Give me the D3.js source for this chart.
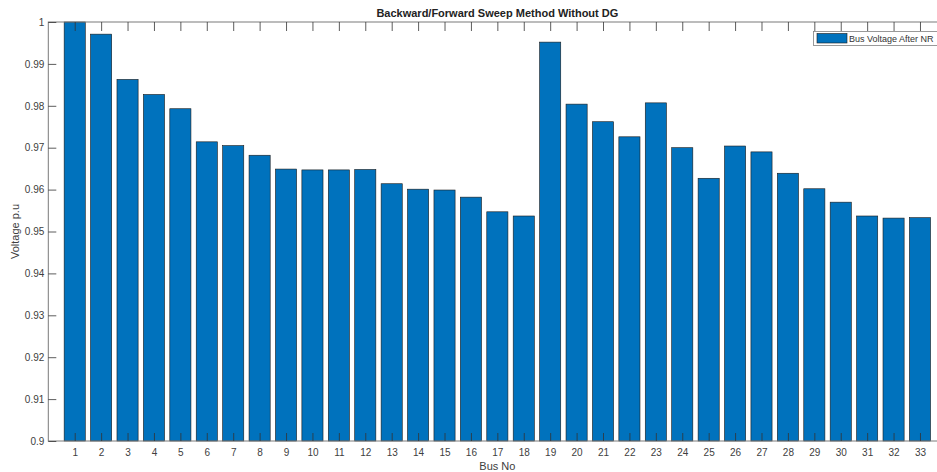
<!DOCTYPE html>
<html><head><meta charset="utf-8">
<script src="https://cdn.jsdelivr.net/npm/d3@7"></script>
<style>body{margin:0;background:#fff;} svg{display:block;font-family:"Liberation Sans",Arial,Helvetica,sans-serif;}</style>
</head><body>
<svg id="chart" width="937" height="472"></svg>
<script>
const buses = d3.range(1, 34);
const voltages = [1.0000, 0.9971, 0.9863, 0.9827, 0.9793, 0.9714, 0.9705, 0.9682, 0.9649, 0.9647,
  0.9647, 0.9648, 0.9614, 0.9601, 0.9599, 0.9582, 0.9547, 0.9537, 0.9952, 0.9804,
  0.9762, 0.9726, 0.9807, 0.9700, 0.9627, 0.9704, 0.9690, 0.9639, 0.9602, 0.9570,
  0.9537, 0.9532, 0.9533];
const yTicks = [0.9, 0.91, 0.92, 0.93, 0.94, 0.95, 0.96, 0.97, 0.98, 0.99, 1];
const title = "Backward/Forward Sweep Method Without DG";
const xLabel = "Bus No";
const yLabel = "Voltage p.u";
const legendLabel = "Bus Voltage After NR";

const svg = d3.select("#chart");
const L = 48.3, R = 946.4, T = 22, B = 441;
const x = d3.scaleLinear().domain([0, 34]).range([L, R]);
const y = d3.scaleLinear().domain([0.9, 1]).range([B, T]);
const step = x(1) - x(0);
const bw = step * 0.8;
const axisCol = "#7a7a7a", textCol = "#404040";

// bars
svg.append("g").selectAll("rect").data(voltages).enter().append("rect")
  .attr("x", (d, i) => x(buses[i]) - bw / 2)
  .attr("y", d => y(d))
  .attr("width", bw)
  .attr("height", d => y(0.9) - y(d))
  .attr("fill", "#0072BD")
  .attr("stroke", "#1a1a1a")
  .attr("stroke-width", 0.6);

// axes box
svg.append("rect").attr("x", L).attr("y", T).attr("width", R - L).attr("height", B - T)
  .attr("fill", "none").attr("stroke", axisCol).attr("stroke-width", 1);

// bottom axis ticks (inward) + labels
const xb = d3.axisBottom(x).tickValues(buses).tickSizeInner(-8).tickSizeOuter(0).tickPadding(8);
const gx = svg.append("g").attr("transform", `translate(0,${B})`).call(xb);
gx.select(".domain").remove();
gx.selectAll(".tick line").attr("stroke", "#333").attr("stroke-width", 0.8);
gx.selectAll("text").attr("fill", textCol).attr("font-size", 10).attr("font-family", "Liberation Sans, Arial, sans-serif");

// top ticks
const xt = d3.axisTop(x).tickValues(buses).tickSizeInner(-9).tickSizeOuter(0).tickFormat("");
const gxt = svg.append("g").attr("transform", `translate(0,${T})`).call(xt);
gxt.select(".domain").remove();
gxt.selectAll(".tick line").attr("stroke", "#333").attr("stroke-width", 0.8);

// left axis
const yl = d3.axisLeft(y).tickValues(yTicks).tickSizeInner(-8).tickSizeOuter(0).tickPadding(4)
  .tickFormat(d => d === 1 ? "1" : d === 0.9 ? "0.9" : d3.format(".2f")(d));
const gy = svg.append("g").attr("transform", `translate(${L},0)`).call(yl);
gy.select(".domain").remove();
gy.selectAll(".tick line").attr("stroke", "#333").attr("stroke-width", 0.8);
gy.selectAll("text").attr("fill", textCol).attr("font-size", 10).attr("font-family", "Liberation Sans, Arial, sans-serif");

// title
svg.append("text").attr("x", (L + R) / 2).attr("y", 17).attr("text-anchor", "middle")
  .attr("font-weight", "bold").attr("font-size", 11).attr("fill", "#222").text(title);

// axis labels
svg.append("text").attr("x", (L + R) / 2).attr("y", 470).attr("text-anchor", "middle")
  .attr("font-size", 11).attr("fill", textCol).text(xLabel);
svg.append("text").attr("transform", `translate(19,${(T + B) / 2}) rotate(-90)`).attr("text-anchor", "middle")
  .attr("font-size", 11).attr("fill", textCol).text(yLabel);

// legend
const lg = svg.append("g");
lg.append("rect").attr("x", 813.5).attr("y", 31.5).attr("width", 130).attr("height", 14)
  .attr("fill", "#fff").attr("stroke", "#808080").attr("stroke-width", 0.8);
lg.append("rect").attr("x", 817).attr("y", 33.5).attr("width", 30).attr("height", 9.5)
  .attr("fill", "#0072BD").attr("stroke", "#1a1a1a").attr("stroke-width", 0.6);
lg.append("text").attr("x", 849).attr("y", 42).attr("font-size", 9).attr("fill", "#333").text(legendLabel);
</script>
</body></html>
